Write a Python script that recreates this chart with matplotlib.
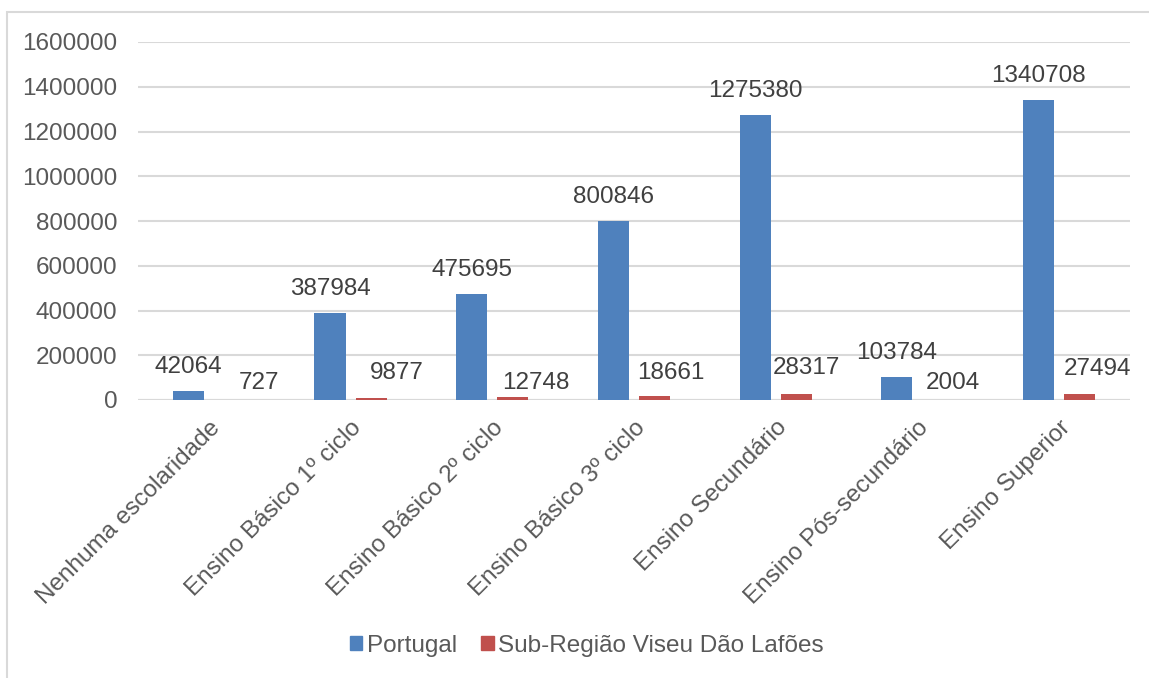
import matplotlib
matplotlib.use("Agg")
import matplotlib.pyplot as plt
import numpy as np
from matplotlib.patches import Rectangle, Patch

categories = ["Nenhuma escolaridade", "Ensino Básico 1º ciclo", "Ensino Básico 2º ciclo",
              "Ensino Básico 3º ciclo", "Ensino Secundário", "Ensino Pós-secundário",
              "Ensino Superior"]
portugal = [42064, 387984, 475695, 800846, 1275380, 103784, 1340708]
viseu = [727, 9877, 12748, 18661, 28317, 2004, 27494]
series_names = ["Portugal", "Sub-Região Viseu Dão Lafões"]
yticks = [0, 200000, 400000, 600000, 800000, 1000000, 1200000, 1400000, 1600000]

plt.rcParams['font.family'] = ['Liberation Sans', 'DejaVu Sans']
BLUE = "#4F81BD"
RED = "#C0504D"
TICK = "#595959"
LAB = "#404040"
GRID = "#D9D9D9"
FS = 17.5

fig = plt.figure(figsize=(11.49, 6.78), dpi=100)
fig.patches.append(Rectangle((7/1149, -0.1), 1.2, 1 - 12/678 + 0.1, transform=fig.transFigure,
                             fill=False, edgecolor=GRID, linewidth=1.5))
ax = fig.add_axes([138/1149, 1 - 400/678, (1130-138)/1149, (400-42)/678])

x = np.arange(len(categories))
w = 0.22
gap = 0.07
xb = x - (w + gap)/2
xr = x + (w + gap)/2
ax.bar(xb, portugal, w, color=BLUE, zorder=3)
ax.bar(xr, viseu, w, color=RED, zorder=3)

ax.set_xlim(-0.5, len(categories) - 0.5)
ax.set_ylim(0, 1600000)
ax.set_yticks(yticks)
ax.set_yticklabels([str(v) for v in yticks])
ax.grid(axis='y', color=GRID, linewidth=1.5, zorder=0)
for s in ax.spines.values():
    s.set_visible(False)
ax.axhline(0, color=GRID, linewidth=1.5, zorder=2)
ax.tick_params(axis='y', length=0, pad=15, labelsize=FS, labelcolor=TICK)
ax.tick_params(axis='x', length=0, pad=12, labelsize=FS, labelcolor=TICK)
ax.set_xticks(x)
ax.set_xticklabels(categories, rotation=45, ha='right', va='top', rotation_mode='anchor')

px = 0.72  # points per pixel at dpi 100
for xi, v in zip(xb, portugal):
    ax.annotate(str(v), (xi, v), xytext=(0, 24*px), textcoords='offset points',
                ha='center', va='center', fontsize=FS, color=LAB)
red_dx = [30, 26, 23, 16, 10, 15, 18]
red_dy = [17, 25, 14, 23, 26, 17, 25]
for xi, v, dx, dy in zip(xr, viseu, red_dx, red_dy):
    ax.annotate(str(v), (xi, v), xytext=(dx*px, dy*px), textcoords='offset points',
                ha='center', va='center', fontsize=FS, color=LAB)

handles = [Patch(color=BLUE), Patch(color=RED)]
fig.legend(handles, series_names, loc='center', bbox_to_anchor=(587/1149, 1 - 646/678),
           ncol=2, frameon=False, fontsize=FS, labelcolor=TICK,
           handlelength=0.5, handleheight=0.5, handletextpad=0.2, columnspacing=1.0)

fig.savefig("out.png", dpi=100)
